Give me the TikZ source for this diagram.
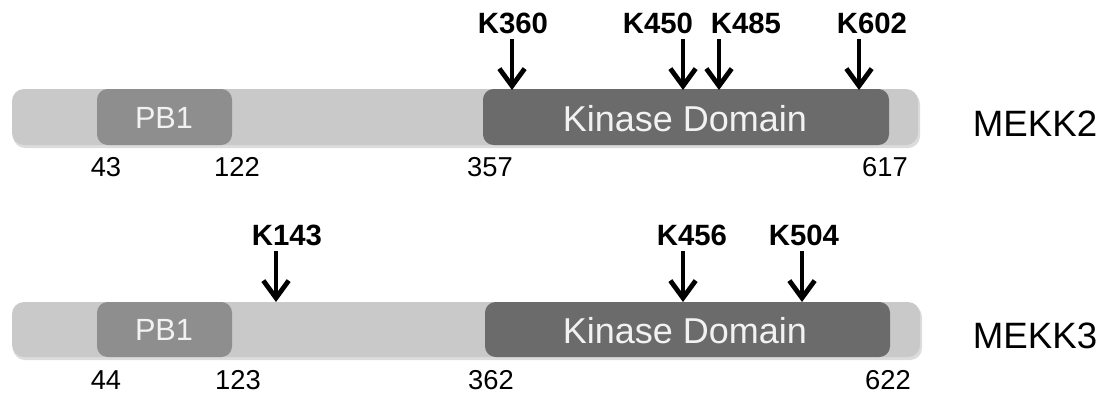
\documentclass[tikz,border=0pt]{standalone}
\usepackage{fontspec}
\setmainfont{Liberation Sans}
\usetikzlibrary{arrows.meta}
\definecolor{barlight}{HTML}{C9C9C9}
\definecolor{pbgray}{HTML}{8E8E8E}
\definecolor{kdgray}{HTML}{6B6B6B}
\definecolor{shadowgray}{HTML}{9A9A9A}
\tikzset{
  bar/.style={fill=barlight, draw=none, rounded corners=9pt},
  shadowbar/.style={fill=shadowgray, draw=none, rounded corners=9pt, opacity=0.35},
  pbbox/.style={fill=pbgray, draw=none, rounded corners=8pt},
  kdbox/.style={fill=kdgray, draw=none, rounded corners=8pt},
  domtext/.style={text=white!95!black, font=\fontsize{27}{30}\selectfont, inner sep=0pt},
  pbtext/.style={text=white!95!black, font=\fontsize{23}{26}\selectfont, inner sep=0pt},
  numlabel/.style={font=\fontsize{20.5}{23}\selectfont, inner sep=0pt},
  klabel/.style={font=\bfseries\fontsize{22}{25}\selectfont, inner sep=0pt},
  protlabel/.style={font=\fontsize{27.5}{30}\selectfont, inner sep=0pt},
  site/.style={-{Straight Barb[length=13pt,width=19pt,line width=3.6pt]}, line width=3.6pt, black},
}
\begin{document}
\begin{tikzpicture}[x=0.75pt, y=-0.75pt]
\useasboundingbox (0,0) rectangle (1105,394);

% ---------- MEKK2 ----------
\fill[shadowbar] (13,92) rectangle (920,148);
\fill[bar] (12,89) rectangle (918,145);
\fill[pbbox] (97,89) rectangle (232,145);
\fill[kdbox] (483,89) rectangle (889,145);
\node[pbtext] (pb1a) at (164,118) {PB1};
\node[domtext] (kda) at (685,119) {Kinase Domain};
\node[protlabel] (mekk2) at (1035,124) {MEKK2};
\node[numlabel] (n43) at (106,167) {43};
\node[numlabel] (n122) at (237,167) {122};
\node[numlabel] (n357) at (490,167) {357};
\node[numlabel] (n617) at (885,167) {617};

\node[klabel] (k360) at (513,23) {K360};
\node[klabel] (k450) at (658,23) {K450};
\node[klabel] (k485) at (746,23) {K485};
\node[klabel] (k602) at (872,23) {K602};
\coordinate (t360) at (512,90);
\coordinate (t450) at (683,90);
\coordinate (t485) at (719,90);
\coordinate (t602) at (859,90);
\draw[site] (512,39) -- (t360);
\draw[site] (683,39) -- (t450);
\draw[site] (719,39) -- (t485);
\draw[site] (859,39) -- (t602);

% ---------- MEKK3 ----------
\fill[shadowbar] (13,305) rectangle (922,360);
\fill[bar] (12,302) rectangle (920,357);
\fill[pbbox] (97,302) rectangle (232,357);
\fill[kdbox] (485,302) rectangle (890,357);
\node[pbtext] (pb1b) at (164,330) {PB1};
\node[domtext] (kdb) at (685,331) {Kinase Domain};
\node[protlabel] (mekk3) at (1035,336) {MEKK3};
\node[numlabel] (n44) at (106,380) {44};
\node[numlabel] (n123) at (238,380) {123};
\node[numlabel] (n362) at (491,380) {362};
\node[numlabel] (n622) at (888,380) {622};

\node[klabel] (k143) at (287,235) {K143};
\node[klabel] (k456) at (692,235) {K456};
\node[klabel] (k504) at (804,235) {K504};
\coordinate (t143) at (276,302);
\coordinate (t456) at (683,302);
\coordinate (t504) at (802,302);
\draw[site] (276,251) -- (t143);
\draw[site] (683,251) -- (t456);
\draw[site] (802,251) -- (t504);
\end{tikzpicture}
\end{document}
